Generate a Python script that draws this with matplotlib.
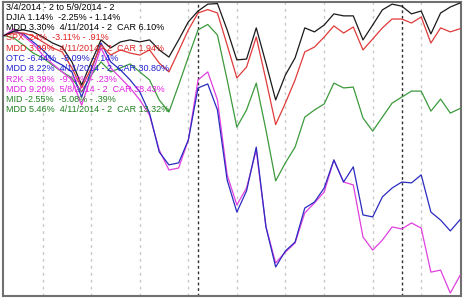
import numpy as np
import matplotlib
matplotlib.use("Agg")
import matplotlib.pyplot as plt

# trading days 3/4/2014 .. 5/9/2014, % change from first close
djia = [0.0, 0.16, 0.20, 0.13, -0.05, -0.26, -0.40, -0.92, -1.73, -0.92,
        -0.15, -0.43, -0.22, -0.15, -0.22, -0.15, -0.50, -0.75, -0.15, 0.48,
        0.86, 1.10, 1.12, 0.20, -0.85, -0.82, 0.27, -0.96, -2.25, -1.38,
        -0.78, 0.27, 0.13, 0.37, 0.76, 0.69, 0.69, -0.15, 0.37, 0.90,
        1.10, 1.03, 0.76, 0.86, 0.06, 0.79, 1.00, 1.14]
spx = [0.0, 0.09, 0.09, -0.01, -0.22, -0.43, -0.57, -1.13, -1.83, -1.13,
       -0.33, -0.68, -0.50, -0.61, -0.68, -0.50, -0.96, -1.27, -0.54, 0.20,
       0.79, 0.91, 0.79, -0.33, -1.48, -1.10, -0.05, -1.55, -3.11, -2.36,
       -1.55, -0.57, -0.40, -0.05, 0.34, 0.09, 0.30, -0.50, -0.12, 0.27,
       0.58, 0.58, 0.44, 0.65, -0.26, 0.27, 0.13, 0.24]
otc = [0.0, 0.14, 0.06, -0.22, -0.50, -0.85, -1.03, -1.27, -2.15, -1.20,
       -0.26, -0.92, -1.20, -1.55, -1.97, -2.71, -4.07, -4.52, -4.45, -3.65,
       -1.83, -1.69, -2.60, -5.05, -6.17, -5.43, -3.90, -6.69, -8.09, -7.53,
       -7.22, -6.03, -5.82, -5.33, -4.35, -5.12, -4.59, -6.27, -6.34, -5.64,
       -5.33, -5.12, -5.15, -4.87, -6.17, -6.45, -6.83, -6.44]
r2k = [0.0, 0.23, -0.01, -0.29, -0.68, -0.99, -1.27, -1.55, -2.43, -1.41,
       -0.43, -1.13, -1.48, -1.83, -2.25, -2.78, -4.00, -4.70, -4.63, -3.65,
       -1.55, -1.27, -2.25, -4.87, -5.92, -5.33, -4.00, -6.69, -7.95, -7.57,
       -7.25, -6.20, -5.85, -5.47, -4.35, -5.12, -5.22, -7.04, -7.50, -7.15,
       -6.69, -6.76, -6.55, -6.73, -8.27, -8.20, -9.00, -8.39]
mid = [0.0, -0.08, -0.33, -0.61, -0.78, -1.03, -1.27, -1.48, -1.97, -1.38,
       -0.92, -1.27, -1.13, -0.99, -1.27, -1.55, -2.25, -2.67, -1.73, -0.75,
       0.20, 0.39, 0.02, -1.55, -3.20, -2.60, -1.66, -3.30, -5.08, -4.45,
       -3.90, -2.85, -2.60, -2.39, -1.66, -1.83, -1.80, -2.88, -3.34, -2.85,
       -2.36, -2.15, -1.94, -1.94, -2.64, -2.22, -2.71, -2.55]

week_starts = [4, 9, 14, 19, 24, 29, 33, 38, 43]
month_starts = [20, 41]

header = "3/4/2014 - 2 to 5/9/2014 - 2"
labels = [
    ("DJIA 1.14%  -2.25% - 1.14%", "MDD 3.30%  4/11/2014 - 2  CAR 6.10%"),
    ("SPX .24%  -3.11% - .91%", "MDD 3.99%  4/11/2014 - 2  CAR 1.94%"),
    ("OTC -6.44%  -8.09% - .14%", "MDD 8.22%  4/11/2014 - 2  CAR 30.80%"),
    ("R2K -8.39%  -9.00% - .23%", "MDD 9.20%  5/8/2014 - 2  CAR 38.43%"),
    ("MID -2.55%  -5.08% - .39%", "MDD 5.46%  4/11/2014 - 2  CAR 13.32%"),
]
series = [djia, spx, otc, r2k, mid]
colors = ["#1a1a1a", "#e03a3a", "#2b2bc0", "#e040e0", "#3c9a3c"]
text_colors = ["#000000", "#e02020", "#2020d0", "#e020e0", "#208020"]

fig = plt.figure(figsize=(4.63, 2.98), dpi=100)
ax = fig.add_axes([3/463, 2/298, 458/463, 294/298])
ax.set_facecolor("white")

for w in week_starts:
    ax.axvline(w, color="#c8c8c8", lw=1, ls=(0, (2, 3)), zorder=1)
for m in month_starts:
    ax.axvline(m, color="#303030", lw=1, ls=(0, (2, 2)), zorder=1)

x = np.arange(len(djia))
# draw bottom-most first so black ends on top
for s, c in list(zip(series, colors))[::-1]:
    ax.plot(x, s, color=c, lw=0.9, zorder=3)

ax.set_xlim(-0.103, 47.103)
ax.set_ylim(-9.105, 1.175)
ax.set_xticks([])
ax.set_yticks([])
for sp in ax.spines.values():
    sp.set_color("#707070")
    sp.set_linewidth(1.5)

fnt = dict(family="Liberation Sans", fontsize=6.5, va="center", ha="left", zorder=2)
y0 = 7
step = 10.3
fig.text(6/463, 1 - y0/298, header, color="black", **fnt)
row = 1
for (l1, l2), tc in zip(labels, text_colors):
    fig.text(6/463, 1 - (y0 + row*step)/298, l1, color=tc, **fnt)
    fig.text(6/463, 1 - (y0 + (row+1)*step)/298, l2, color=tc, **fnt)
    row += 2

fig.savefig("out.png", dpi=100)
